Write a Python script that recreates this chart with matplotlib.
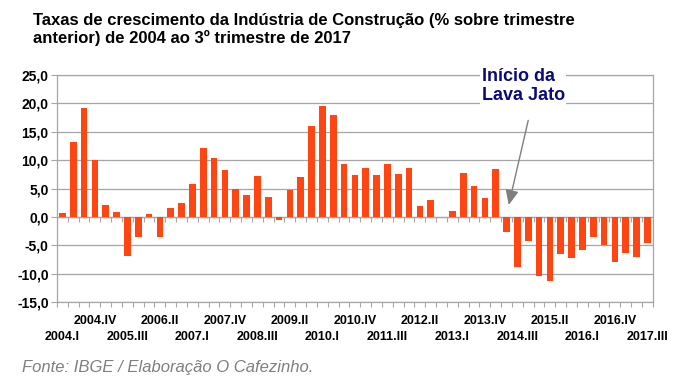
import numpy as np
import matplotlib.pyplot as plt

# dados: taxa de crescimento trimestral (%)
anos = list(range(2004, 2018))
trimestres = ['I', 'II', 'III', 'IV']
periodos = [f'{a}.{t}' for a in anos for t in trimestres][:55]

valores = [0.7, 13.2, 19.1, 10.0, 2.1, 0.8, -6.9, -3.5, 0.5, -3.5,
           1.6, 2.4, 5.8, 12.2, 10.4, 8.2, 5.0, 3.8, 7.2, 3.5,
           -0.6, 4.8, 7.1, 16.1, 19.5, 17.9, 9.3, 7.4, 8.6, 7.3,
           9.4, 7.6, 8.7, 1.9, 2.9, -0.1, 1.1, 7.8, 5.5, 3.4,
           8.4, -2.6, -8.9, -4.2, -10.4, -11.3, -6.6, -7.2, -5.8, -3.5,
           -4.9, -7.9, -6.4, -7.1, -4.6]

titulo = 'Taxas de crescimento da Indústria de Construção (% sobre trimestre\nanterior) de 2004 ao 3º trimestre de 2017'
fonte = 'Fonte: IBGE / Elaboração O Cafezinho.'

arial = ['Liberation Sans', 'DejaVu Sans']
cinza = '#a6a6a6'

fig = plt.figure(figsize=(6.8, 3.84), dpi=100)
ax = fig.add_axes([0.0838, 0.2135, 0.8762, 0.5912])

x = np.arange(len(valores))
ax.bar(x, valores, width=0.62, color='#ff4512', zorder=3)

ax.set_xlim(-0.5, len(valores) - 0.5)
ax.set_ylim(-15, 25)
ax.set_yticks(np.arange(-15, 26, 5))
ax.set_yticklabels([f'{v:.1f}'.replace('.', ',') for v in np.arange(-15, 26, 5)],
                   family=arial, fontweight='bold', fontsize=10)
ax.grid(axis='y', color=cinza, lw=0.9, zorder=0)
ax.tick_params(axis='y', length=4, color=cinza, pad=2)

# rótulos do eixo x em duas linhas, a cada 3 trimestres
idx = list(range(0, len(valores), 3))
linha_cima = idx[1::2]
linha_baixo = idx[0::2]
ax.set_xticks(linha_cima)
ax.set_xticklabels([periodos[i] for i in linha_cima], family=arial,
                   fontweight='bold', fontsize=9)
ax.set_xticks(linha_baixo, minor=True)
ax.set_xticklabels([periodos[i] for i in linha_baixo], minor=True, family=arial,
                   fontweight='bold', fontsize=9)
ax.tick_params(axis='x', which='major', length=0, pad=9)
ax.tick_params(axis='x', which='minor', length=0, pad=21)

# marcas entre categorias (embaixo e na linha do zero)
limites = np.arange(len(valores) + 1) - 0.5
ax.vlines(limites, -15.8, -15, color=cinza, lw=0.8, clip_on=False, zorder=2)
ax.axhline(0, color=cinza, lw=0.9, zorder=2)
ax.vlines(limites, -0.9, 0, color=cinza, lw=0.8, zorder=2)

for s in ax.spines.values():
    s.set_color(cinza)
    s.set_linewidth(0.9)

# anotação
ax.annotate('', xy=(41.2, 2.1), xytext=(43.0, 17.0),
            arrowprops=dict(arrowstyle='-|>,head_length=0.9,head_width=0.4',
                            color='#7f7f7f', lw=1, shrinkA=0, shrinkB=0), zorder=5)
ax.text(38.7, 26.3, 'Início da\nLava Jato', family=arial, fontweight='bold',
        fontsize=13, color='#0a0a80', va='top', ha='left', linespacing=1.15,
        clip_on=False, zorder=6,
        bbox=dict(facecolor='white', edgecolor='none', pad=1))

fig.text(0.048, 0.965, titulo, family=arial, fontweight='bold', fontsize=12,
         va='top', ha='left', linespacing=1.15)
fig.text(0.032, 0.042, fonte, family=arial, style='italic', fontsize=12,
         color='#7f7f7f', va='center', ha='left')

fig.savefig('out.png', dpi=100)
